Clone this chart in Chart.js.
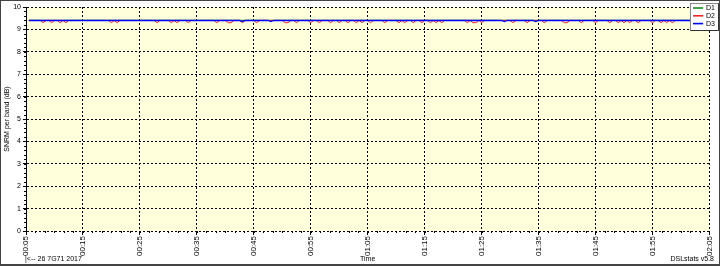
<!DOCTYPE html>
<html>
<head>
<meta charset="utf-8">
<script src="https://cdn.jsdelivr.net/npm/chart.js@4"></script>
<style>
    html, body { margin: 0; padding: 0; background: #fff; }
    canvas { display: block; }
</style>
</head>
<body>
<canvas id="snrmChart" width="720" height="266"></canvas>
<script>
// Series labels and colours
const seriesNames = ['D1', 'D2', 'D3'];
const seriesColors = ['#1f8a1f', '#ff2020', '#0000ff'];

// Time is in minutes after midnight
const d1Times = [5.5, 124];
const d1Values = [9.4, 9.4];

const d2Times = [
    5.5,
    7.5, 8, 8.5, 9, 9.5, 10, 10.5, 11, 11.5, 12, 12.5,
    19.5, 20, 20.5, 21, 21.5,
    27.5, 28, 28.5, 30, 30.5, 31, 31.5, 32, 33, 33.5, 34,
    38, 38.5, 39, 40, 40.5, 41, 41.5, 42.5, 43, 43.5, 45, 45.5, 46,
    50, 50.5, 51, 51.5, 52, 52.5, 53, 54.5, 55, 55.5, 56, 56.5, 57,
    58, 58.5, 59, 59.5, 60, 60.5, 61, 61.5, 62, 62.5, 63, 63.5, 64, 64.5,
    65, 65.5, 66, 67.5, 68, 68.5, 70, 70.5, 71, 71.5, 72, 72.5, 73, 73.5,
    74, 74.5, 75, 75.5, 76, 76.5, 77, 77.5, 78, 78.5,
    82, 82.5, 83, 83.5, 84, 84.5, 85, 85.5,
    90, 90.5, 91, 92.5, 93, 93.5, 95.5, 96, 96.5,
    99, 99.5, 100, 100.5, 102, 102.5, 103, 104.5, 105, 105.5,
    107, 107.5, 108, 108.5, 109, 109.5, 110, 110.5, 111, 111.5,
    112, 112.5, 113, 114.5, 115, 115.5,
    116, 116.5, 117, 117.5, 118, 118.5, 119,
    124
];
const d2Values = [
    9.4,
    9.4, 9.3, 9.4, 9.4, 9.3, 9.4, 9.4, 9.3, 9.4, 9.3, 9.4,
    9.4, 9.3, 9.4, 9.3, 9.4,
    9.4, 9.3, 9.4, 9.4, 9.3, 9.4, 9.3, 9.4, 9.4, 9.3, 9.4,
    9.4, 9.3, 9.4, 9.4, 9.3, 9.3, 9.4, 9.4, 9.3, 9.4, 9.4, 9.3, 9.4,
    9.4, 9.3, 9.3, 9.4, 9.4, 9.3, 9.4, 9.4, 9.3, 9.4, 9.4, 9.3, 9.4,
    9.4, 9.3, 9.4, 9.4, 9.3, 9.4, 9.4, 9.3, 9.4, 9.4, 9.3, 9.4, 9.3, 9.4,
    9.4, 9.3, 9.4, 9.4, 9.3, 9.4, 9.4, 9.3, 9.4, 9.3, 9.4, 9.4, 9.3, 9.4,
    9.4, 9.3, 9.4, 9.4, 9.3, 9.4, 9.3, 9.4, 9.3, 9.4,
    9.4, 9.3, 9.4, 9.3, 9.3, 9.4, 9.3, 9.4,
    9.4, 9.3, 9.4, 9.4, 9.3, 9.4, 9.4, 9.3, 9.4,
    9.4, 9.3, 9.3, 9.4, 9.4, 9.3, 9.4, 9.4, 9.3, 9.4,
    9.4, 9.3, 9.4, 9.4, 9.3, 9.4, 9.3, 9.4, 9.3, 9.4,
    9.4, 9.3, 9.4, 9.4, 9.3, 9.4,
    9.4, 9.3, 9.4, 9.3, 9.4, 9.3, 9.4,
    9.4
];

const d3Times = [5.5, 42.5, 43, 43.5, 47.5, 48, 48.5, 88.5, 89, 89.5, 94, 94.5, 95, 124];
const d3Values = [9.4, 9.4, 9.35, 9.4, 9.4, 9.35, 9.4, 9.4, 9.35, 9.4, 9.4, 9.35, 9.4, 9.4];

// Axis ranges
const timeMin = 5;
const timeMax = 125;
const timeStep = 10;
const snrMin = 0;
const snrMax = 10;

const dateText = '|<-- 26 7G71 2017';
const xTitle = 'Time';
const yTitle = 'SNRM per band (dB)';
const versionText = 'DSLstats v5.8';

const FONT = '"Liberation Sans", Arial, sans-serif';

function toPoints(times, values) {
    return times.map((t, i) => ({ x: t, y: values[i] }));
}

function formatTime(mins) {
    const h = Math.floor(mins / 60);
    const m = Math.round(mins % 60);
    return String(h).padStart(2, '0') + ':' + String(m).padStart(2, '0');
}

// Background, minor ticks, labels, legend and frame
const decorPlugin = {
    id: 'decor',
    beforeDraw(chart) {
        const { ctx, chartArea: a } = chart;
        ctx.save();
        ctx.fillStyle = '#ffffdc';
        ctx.fillRect(a.left, a.top, a.right - a.left, a.bottom - a.top);
        ctx.restore();
    },
    afterDraw(chart) {
        const { ctx, chartArea: a, scales } = chart;
        ctx.save();

        // minor ticks
        ctx.strokeStyle = '#000';
        ctx.lineWidth = 1;
        ctx.beginPath();
        for (let v = snrMin; v <= snrMax + 0.001; v += 0.2) {
            const y = Math.round(scales.y.getPixelForValue(v)) + 0.5;
            ctx.moveTo(a.left - 2, y);
            ctx.lineTo(a.left, y);
        }
        for (let t = timeMin; t <= timeMax + 0.001; t += timeStep / 6) {
            const x = Math.round(scales.x.getPixelForValue(t)) + 0.5;
            ctx.moveTo(x, a.bottom);
            ctx.lineTo(x, a.bottom + 2);
        }
        ctx.stroke();

        // texts
        ctx.fillStyle = '#000';
        ctx.font = '7px ' + FONT;
        ctx.textBaseline = 'middle';
        ctx.textAlign = 'left';
        ctx.fillText(dateText, a.left - 1, 259);
        ctx.textAlign = 'center';
        ctx.fillText(xTitle, (a.left + a.right) / 2, 259);
        ctx.textAlign = 'right';
        ctx.fillText(versionText, 714, 259);

        ctx.save();
        ctx.translate(7, (a.top + a.bottom) / 2);
        ctx.rotate(-Math.PI / 2);
        ctx.textAlign = 'center';
        ctx.fillText(yTitle, 0, 0);
        ctx.restore();

        // legend box
        const lx = 690, ly = 3, lw = 28, lh = 27;
        ctx.fillStyle = '#fff';
        ctx.fillRect(lx, ly, lw, lh);
        ctx.strokeStyle = '#888';
        ctx.strokeRect(lx + 0.5, ly + 0.5, lw, lh);
        ctx.strokeStyle = '#333';
        ctx.beginPath();
        ctx.moveTo(lx + lw + 0.5, ly + 0.5);
        ctx.lineTo(lx + lw + 0.5, ly + lh + 0.5);
        ctx.lineTo(lx + 0.5, ly + lh + 0.5);
        ctx.stroke();
        ctx.font = '7px ' + FONT;
        ctx.textAlign = 'left';
        seriesNames.forEach((name, i) => {
            const y = ly + 5 + i * 7.8;
            ctx.strokeStyle = seriesColors[i];
            ctx.lineWidth = 1.6;
            ctx.beginPath();
            ctx.moveTo(lx + 3, y);
            ctx.lineTo(lx + 13, y);
            ctx.stroke();
            ctx.fillStyle = '#000';
            ctx.fillText(name, lx + 16, y);
        });

        // outer frame
        ctx.strokeStyle = '#444';
        ctx.lineWidth = 1;
        ctx.strokeRect(0.5, 0.5, 719, 264);
        ctx.fillStyle = '#444';
        ctx.fillRect(0, 264, 720, 2);
        ctx.restore();
    }
};

const ctx = document.getElementById('snrmChart').getContext('2d');
new Chart(ctx, {
    type: 'line',
    data: {
        datasets: [
            {
                label: seriesNames[0],
                data: toPoints(d1Times, d1Values),
                borderColor: seriesColors[0],
                borderWidth: 1.3,
                order: 3
            },
            {
                label: seriesNames[1],
                data: toPoints(d2Times, d2Values),
                borderColor: seriesColors[1],
                borderWidth: 1,
                order: 2
            },
            {
                label: seriesNames[2],
                data: toPoints(d3Times, d3Values),
                borderColor: seriesColors[2],
                borderWidth: 1.4,
                order: 1
            }
        ]
    },
    options: {
        responsive: false,
        animation: false,
        devicePixelRatio: 1,
        layout: { padding: { top: 7, right: 8, left: 0, bottom: 0 } },
        elements: {
            point: { radius: 0 },
            line: { tension: 0, fill: false }
        },
        plugins: {
            legend: { display: false },
            tooltip: { enabled: false }
        },
        scales: {
            x: {
                type: 'linear',
                min: timeMin,
                max: timeMax,
                afterFit: function(scale) { scale.height = 35; },
                afterBuildTicks: function(scale) {
                    const ticks = [];
                    for (let t = timeMin; t <= timeMax; t += timeStep) ticks.push({ value: t });
                    scale.ticks = ticks;
                },
                ticks: {
                    autoSkip: false,
                    minRotation: 90,
                    maxRotation: 90,
                    padding: 1,
                    color: '#000',
                    font: { family: FONT, size: 8 },
                    callback: function(v) { return formatTime(v); }
                },
                grid: {
                    color: '#000',
                    lineWidth: 1,
                    tickLength: 4,
                    tickColor: '#000'
                },
                border: { display: false, dash: [2, 2] }
            },
            y: {
                min: snrMin,
                max: snrMax,
                afterFit: function(scale) { scale.width = 26; },
                ticks: {
                    stepSize: 1,
                    padding: 2,
                    color: '#000',
                    font: { family: FONT, size: 7 }
                },
                grid: {
                    color: '#000',
                    lineWidth: 1,
                    tickLength: 3,
                    tickColor: '#000'
                },
                border: { display: true, color: '#000', width: 1, dash: [2, 2] }
            }
        }
    },
    plugins: [decorPlugin]
});
</script>
</body>
</html>
